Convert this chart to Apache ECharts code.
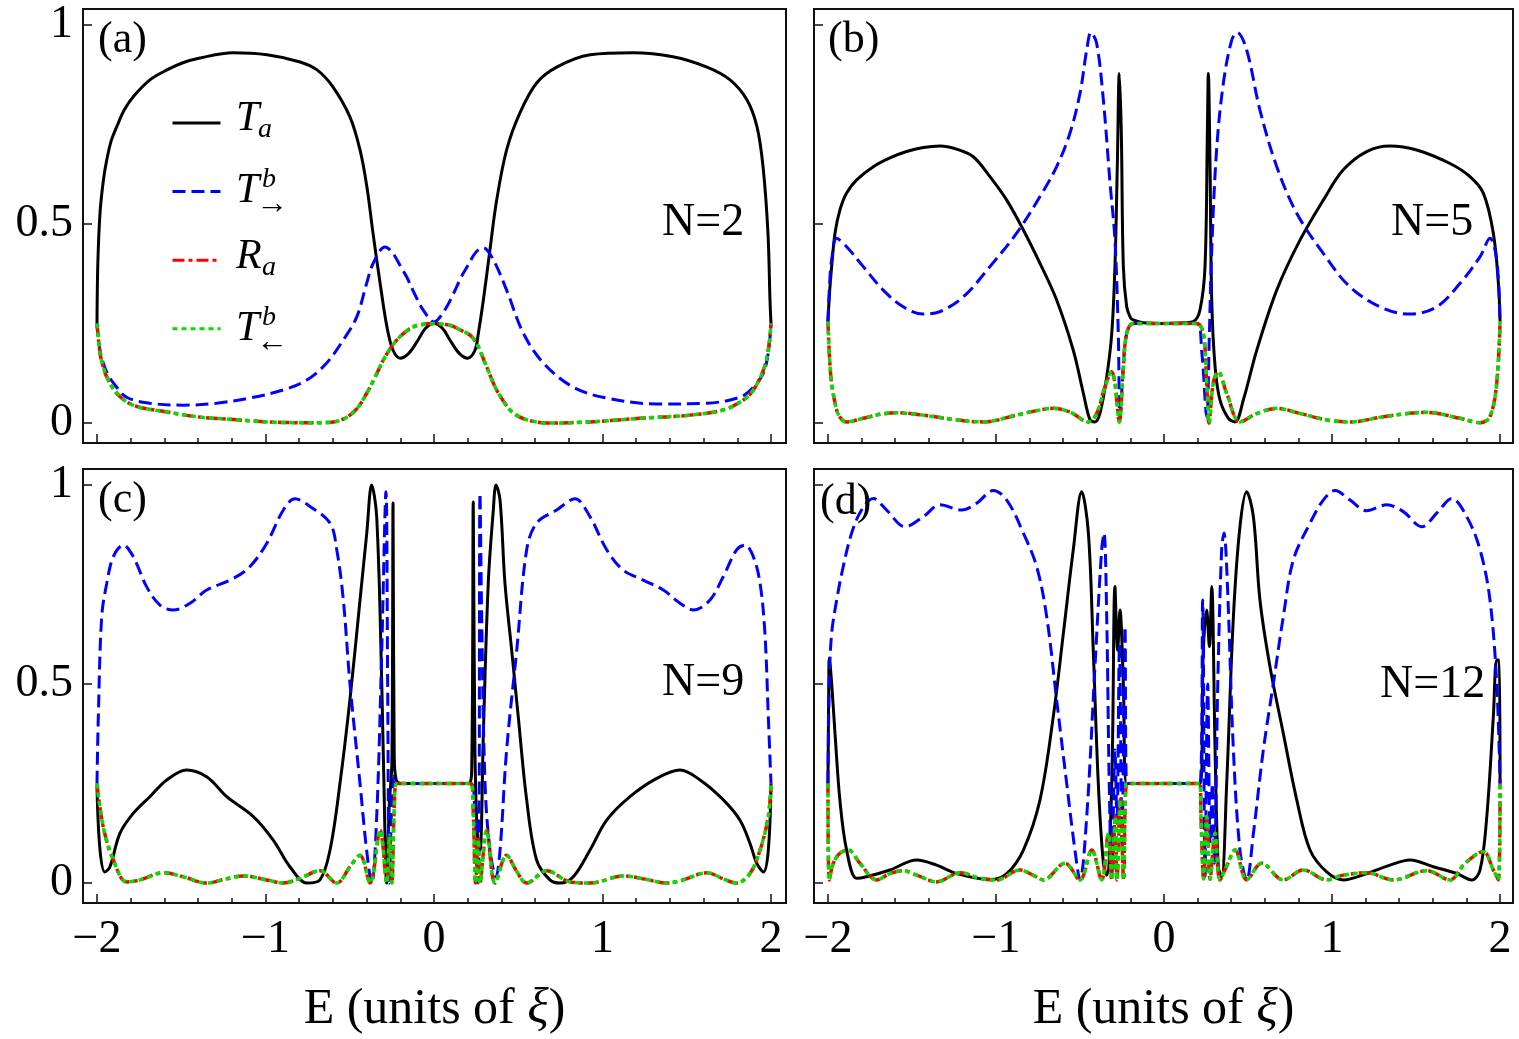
<!DOCTYPE html>
<html>
<head>
<meta charset="utf-8">
<title>Transmission vs E</title>
<script src="https://cdn.jsdelivr.net/npm/echarts@6/dist/echarts.min.js"></script>
<style>
html, body { margin: 0; padding: 0; background: #fff; }
#chart { width: 1519px; height: 1039px; }
</style>
</head>
<body>
<div id="chart"></div>
<script>
// tick positions
const majorTicks = [-2, -1, 0, 1, 2];
const minorTicks = [-1.8, -1.6, -1.4, -1.2, -0.8, -0.6, -0.4, -0.2, 0.2, 0.4, 0.6, 0.8, 1.2, 1.4, 1.6, 1.8];
const yTicks = [0, 0.5, 1];
const panelTags = ['(a)', '(b)', '(c)', '(d)'];
const panelN = ['N=2', 'N=5', 'N=9', 'N=12'];

// (a) N=2  -- [E, value]
const taA = [[-2,0.25],[-1.995,0.4],[-1.982,0.528],[-1.962,0.61],[-1.942,0.661],[-1.915,0.71],[-1.883,0.744],[-1.84,0.785],[-1.786,0.819],[-1.686,0.862],[-1.585,0.887],[-1.49,0.905],[-1.389,0.917],[-1.193,0.93],[-0.991,0.925],[-0.795,0.907],[-0.694,0.887],[-0.599,0.844],[-0.499,0.769],[-0.439,0.686],[-0.398,0.593],[-0.362,0.477],[-0.32,0.352],[-0.279,0.241],[-0.243,0.183],[-0.2,0.163],[-0.15,0.175],[-0.1,0.205],[-0.05,0.238],[0,0.25],[0.05,0.238],[0.1,0.205],[0.15,0.175],[0.2,0.163],[0.243,0.183],[0.263,0.225],[0.293,0.309],[0.332,0.435],[0.372,0.56],[0.431,0.686],[0.51,0.779],[0.609,0.854],[0.728,0.894],[0.926,0.925],[1.18,0.93],[1.418,0.92],[1.62,0.894],[1.757,0.862],[1.857,0.812],[1.917,0.744],[1.953,0.643],[1.982,0.477],[1.994,0.309],[2,0.25]];
const trA = [[-2,0.25],[-1.985,0.19],[-1.963,0.151],[-1.935,0.122],[-1.903,0.101],[-1.824,0.065],[-1.686,0.05],[-1.488,0.045],[-1.29,0.05],[-1.092,0.063],[-0.896,0.083],[-0.755,0.108],[-0.637,0.151],[-0.538,0.209],[-0.459,0.266],[-0.399,0.352],[-0.36,0.402],[-0.291,0.442],[-0.25,0.43],[-0.2,0.395],[-0.162,0.367],[-0.11,0.32],[-0.064,0.284],[0,0.254],[0.064,0.284],[0.11,0.32],[0.162,0.367],[0.2,0.395],[0.25,0.43],[0.293,0.44],[0.352,0.41],[0.431,0.334],[0.53,0.226],[0.649,0.151],[0.827,0.09],[1.025,0.063],[1.32,0.048],[1.619,0.05],[1.816,0.065],[1.895,0.09],[1.955,0.126],[1.985,0.18],[2,0.25]];
const raA = [[-2,0.25],[-1.982,0.176],[-1.962,0.14],[-1.942,0.116],[-1.883,0.075],[-1.785,0.045],[-1.586,0.028],[-1.389,0.015],[-1.191,0.009],[-0.993,0.003],[-0.795,0.001],[-0.677,0.001],[-0.598,0.003],[-0.55,0.008],[-0.499,0.02],[-0.45,0.04],[-0.399,0.075],[-0.35,0.115],[-0.301,0.158],[-0.25,0.193],[-0.202,0.217],[-0.15,0.235],[-0.1,0.245],[0,0.25],[0.1,0.245],[0.15,0.235],[0.214,0.221],[0.253,0.2],[0.313,0.141],[0.372,0.083],[0.451,0.033],[0.51,0.015],[0.57,0.006],[0.669,0],[0.926,0.003],[1.223,0.012],[1.519,0.02],[1.717,0.033],[1.836,0.058],[1.895,0.083],[1.955,0.133],[1.984,0.183],[2,0.25]];

// (b) N=5
const taB = [[-2,0.255],[-1.99,0.33],[-1.978,0.393],[-1.958,0.477],[-1.929,0.535],[-1.889,0.578],[-1.829,0.611],[-1.73,0.644],[-1.631,0.666],[-1.532,0.682],[-1.433,0.692],[-1.333,0.696],[-1.234,0.688],[-1.135,0.669],[-1.036,0.619],[-0.936,0.56],[-0.837,0.485],[-0.738,0.401],[-0.639,0.309],[-0.54,0.183],[-0.48,0.075],[-0.44,0.008],[-0.411,0.003],[-0.381,0.025],[-0.341,0.116],[-0.311,0.225],[-0.292,0.393],[-0.278,0.644],[-0.266,0.878],[-0.254,0.728],[-0.242,0.393],[-0.222,0.292],[-0.2,0.265],[-0.183,0.259],[-0.123,0.252],[0,0.25],[0.123,0.252],[0.175,0.255],[0.214,0.284],[0.244,0.393],[0.258,0.73],[0.264,0.878],[0.274,0.644],[0.284,0.309],[0.304,0.141],[0.333,0.058],[0.383,0.012],[0.423,0.003],[0.472,0.058],[0.552,0.183],[0.671,0.334],[0.81,0.46],[0.948,0.56],[1.067,0.636],[1.206,0.682],[1.345,0.696],[1.504,0.686],[1.702,0.652],[1.821,0.619],[1.901,0.577],[1.96,0.477],[1.99,0.351],[2,0.255]];
const trB = [[-2,0.255],[-1.99,0.35],[-1.978,0.41],[-1.948,0.464],[-1.889,0.443],[-1.79,0.393],[-1.671,0.334],[-1.552,0.292],[-1.433,0.274],[-1.333,0.28],[-1.194,0.317],[-1.036,0.393],[-0.877,0.477],[-0.738,0.569],[-0.639,0.644],[-0.56,0.728],[-0.5,0.828],[-0.46,0.937],[-0.435,0.981],[-0.401,0.954],[-0.361,0.812],[-0.321,0.602],[-0.292,0.46],[-0.272,0.225],[-0.262,0.016],[-0.242,0.141],[-0.222,0.225],[-0.183,0.25],[0,0.25],[0.195,0.25],[0.224,0.183],[0.254,0.016],[0.27,0.225],[0.284,0.435],[0.313,0.686],[0.353,0.853],[0.403,0.962],[0.436,0.981],[0.492,0.937],[0.571,0.786],[0.671,0.644],[0.79,0.527],[0.948,0.426],[1.107,0.342],[1.305,0.288],[1.464,0.274],[1.623,0.292],[1.762,0.351],[1.881,0.418],[1.94,0.464],[1.98,0.41],[2,0.255]];
const raB = [[-2,0.255],[-1.99,0.16],[-1.978,0.1],[-1.948,0.033],[-1.92,0.01],[-1.889,0.003],[-1.79,0.012],[-1.69,0.022],[-1.591,0.026],[-1.433,0.02],[-1.234,0.008],[-1.075,0.003],[-0.877,0.02],[-0.75,0.032],[-0.659,0.037],[-0.56,0.028],[-0.45,0.003],[-0.401,0.024],[-0.351,0.091],[-0.311,0.129],[-0.292,0.1],[-0.266,0.003],[-0.242,0.141],[-0.222,0.225],[-0.183,0.25],[0,0.25],[0.195,0.25],[0.234,0.225],[0.254,0.1],[0.268,0],[0.293,0.1],[0.323,0.129],[0.373,0.075],[0.452,0.003],[0.552,0.024],[0.671,0.037],[0.81,0.024],[0.969,0.008],[1.107,0.003],[1.305,0.016],[1.45,0.024],[1.563,0.027],[1.762,0.012],[1.881,0.001],[1.94,0.016],[1.98,0.1],[2,0.255]];

// (c) N=9
const taC = [[-2,0.242],[-1.982,0.083],[-1.953,0.028],[-1.923,0.041],[-1.864,0.125],[-1.785,0.175],[-1.686,0.217],[-1.586,0.259],[-1.468,0.284],[-1.349,0.267],[-1.23,0.217],[-1.072,0.167],[-0.954,0.108],[-0.855,0.041],[-0.755,0],[-0.677,0.008],[-0.617,0.083],[-0.558,0.25],[-0.499,0.46],[-0.439,0.711],[-0.399,0.879],[-0.37,1],[-0.34,0.92],[-0.31,0.502],[-0.291,0.125],[-0.281,0],[-0.265,0.2],[-0.25,0.3],[-0.243,0.955],[-0.236,0.32],[-0.225,0.26],[-0.2,0.25],[0,0.25],[0.204,0.25],[0.224,0.29],[0.233,0.958],[0.243,0.334],[0.257,0.125],[0.273,0.083],[0.293,0.376],[0.322,0.753],[0.352,0.937],[0.368,1],[0.392,0.962],[0.421,0.754],[0.461,0.585],[0.5,0.418],[0.55,0.209],[0.609,0.058],[0.688,0.008],[0.748,0],[0.827,0.016],[0.926,0.083],[1.025,0.158],[1.163,0.217],[1.322,0.263],[1.46,0.284],[1.579,0.259],[1.717,0.209],[1.816,0.158],[1.875,0.1],[1.915,0.05],[1.955,0.028],[1.984,0.083],[2,0.25]];
const trC = [[-2,0.25],[-1.992,0.418],[-1.972,0.669],[-1.942,0.753],[-1.903,0.82],[-1.844,0.849],[-1.785,0.82],[-1.705,0.744],[-1.626,0.698],[-1.547,0.686],[-1.448,0.703],[-1.349,0.736],[-1.191,0.765],[-1.092,0.795],[-0.993,0.853],[-0.894,0.937],[-0.825,0.965],[-0.736,0.946],[-0.617,0.904],[-0.577,0.837],[-0.538,0.711],[-0.499,0.502],[-0.439,0.25],[-0.4,0.083],[-0.37,0],[-0.34,0.167],[-0.31,0.585],[-0.285,0.983],[-0.275,0.5],[-0.265,0],[-0.25,0.2],[-0.235,0.27],[-0.22,0.25],[0,0.25],[0.22,0.25],[0.24,0.2],[0.263,0],[0.273,0.979],[0.283,0.669],[0.303,0.25],[0.332,0.083],[0.368,0.016],[0.392,0.083],[0.431,0.334],[0.491,0.585],[0.55,0.837],[0.609,0.904],[0.728,0.937],[0.837,0.965],[0.926,0.92],[1.025,0.837],[1.123,0.786],[1.242,0.761],[1.361,0.736],[1.46,0.703],[1.539,0.686],[1.638,0.711],[1.717,0.77],[1.796,0.837],[1.846,0.849],[1.895,0.82],[1.935,0.753],[1.964,0.627],[1.984,0.418],[2,0.25]];
const raC = [[-2,0.25],[-1.963,0.141],[-1.903,0.058],[-1.824,0.003],[-1.745,0.008],[-1.607,0.026],[-1.488,0.016],[-1.349,0],[-1.24,0.01],[-1.132,0.018],[-0.993,0.008],[-0.894,0],[-0.795,0.012],[-0.677,0.031],[-0.577,0],[-0.499,0.041],[-0.439,0.07],[-0.38,0],[-0.32,0.133],[-0.28,0],[-0.265,0.12],[-0.25,0],[-0.235,0.2],[-0.22,0.25],[0,0.25],[0.22,0.25],[0.233,0.18],[0.247,0],[0.263,0.11],[0.273,0],[0.313,0.133],[0.362,0],[0.431,0.07],[0.49,0.03],[0.55,0],[0.669,0.031],[0.807,0.003],[0.926,0],[1.123,0.018],[1.25,0.01],[1.381,0],[1.479,0.008],[1.619,0.026],[1.72,0.01],[1.796,0],[1.875,0.024],[1.935,0.083],[1.984,0.167],[2,0.25]];

// (d) N=12
const taD = [[-2,0.25],[-1.995,0.5],[-1.992,0.565],[-1.978,0.502],[-1.958,0.376],[-1.929,0.209],[-1.889,0.083],[-1.829,0.012],[-1.77,0.016],[-1.631,0.033],[-1.472,0.058],[-1.353,0.045],[-1.234,0.024],[-1.036,0.009],[-0.936,0.024],[-0.837,0.083],[-0.738,0.209],[-0.659,0.418],[-0.599,0.627],[-0.54,0.837],[-0.49,0.983],[-0.45,0.879],[-0.421,0.585],[-0.391,0.25],[-0.361,0.05],[-0.341,0.02],[-0.311,0.25],[-0.292,0.745],[-0.276,0.585],[-0.262,0.686],[-0.242,0.502],[-0.222,0.25],[0,0.25],[0.214,0.25],[0.234,0.585],[0.254,0.686],[0.27,0.594],[0.284,0.745],[0.304,0.334],[0.323,0.041],[0.343,0.016],[0.373,0.25],[0.413,0.669],[0.452,0.895],[0.492,0.983],[0.532,0.92],[0.571,0.711],[0.631,0.543],[0.71,0.376],[0.79,0.209],[0.869,0.083],[0.968,0.028],[1.067,0.008],[1.206,0.024],[1.345,0.045],[1.464,0.058],[1.603,0.041],[1.742,0.024],[1.832,0.008],[1.881,0.033],[1.921,0.167],[1.96,0.418],[1.98,0.56],[1.995,0.56],[2,0.25]];
const trD = [[-2,0.25],[-1.992,0.502],[-1.978,0.627],[-1.948,0.711],[-1.909,0.795],[-1.859,0.879],[-1.8,0.937],[-1.73,0.966],[-1.651,0.937],[-1.542,0.895],[-1.433,0.92],[-1.333,0.95],[-1.204,0.937],[-1.115,0.954],[-1.016,0.986],[-0.936,0.962],[-0.837,0.879],[-0.758,0.795],[-0.698,0.669],[-0.639,0.46],[-0.579,0.25],[-0.53,0.083],[-0.5,0.008],[-0.46,0.167],[-0.411,0.543],[-0.371,0.837],[-0.357,0.879],[-0.341,0.669],[-0.326,0.25],[-0.311,0.016],[-0.292,0.334],[-0.28,0.15],[-0.265,0.6],[-0.25,0.1],[-0.232,0.644],[-0.222,0.25],[0,0.25],[0.214,0.25],[0.23,0.711],[0.244,0.016],[0.26,0.5],[0.275,0.1],[0.288,0.25],[0.3,0.05],[0.32,0.5],[0.343,0.837],[0.357,0.879],[0.377,0.753],[0.413,0.334],[0.452,0.083],[0.492,0.008],[0.532,0.125],[0.591,0.334],[0.651,0.502],[0.71,0.669],[0.77,0.812],[0.869,0.904],[0.948,0.962],[1.018,0.986],[1.107,0.962],[1.206,0.935],[1.325,0.95],[1.424,0.933],[1.534,0.895],[1.623,0.929],[1.713,0.966],[1.802,0.92],[1.881,0.837],[1.94,0.711],[1.98,0.502],[2,0.25]];
const raD = [[-2,0.25],[-1.992,0.008],[-1.968,0.05],[-1.929,0.075],[-1.879,0.083],[-1.81,0.05],[-1.71,0.008],[-1.631,0.024],[-1.552,0.031],[-1.472,0.02],[-1.353,0.003],[-1.214,0.026],[-1.095,0.012],[-0.996,0.008],[-0.857,0.033],[-0.78,0.02],[-0.718,0.008],[-0.589,0.05],[-0.5,0.008],[-0.43,0.083],[-0.371,0.008],[-0.331,0.125],[-0.311,0.008],[-0.29,0.167],[-0.28,0.008],[-0.26,0.21],[-0.24,0.008],[-0.22,0.25],[0,0.25],[0.214,0.25],[0.22,0.17],[0.236,0.01],[0.254,0.167],[0.274,0.01],[0.304,0.125],[0.333,0.008],[0.37,0.04],[0.423,0.083],[0.492,0.008],[0.581,0.05],[0.71,0.008],[0.829,0.033],[0.968,0.008],[1.067,0.02],[1.206,0.026],[1.365,0.008],[1.563,0.031],[1.702,0.008],[1.792,0.05],[1.901,0.079],[1.96,0.033],[1.99,0.008],[2,0.25]];

// R_a and T_left^b coincide in every panel
const panels = [
    { ta: taA, tr: trA, ra: raA, tl: raA },
    { ta: taB, tr: trB, ra: raB, tl: raB },
    { ta: taC, tr: trC, ra: raC, tl: raC },
    { ta: taD, tr: trD, ra: raD, tl: raD }
];

const serif = '"Liberation Serif", "Times New Roman", serif';

const gridBoxes = [
    { left: 83, top: 9, width: 703, height: 434 },
    { left: 814, top: 9, width: 699, height: 434 },
    { left: 83, top: 469, width: 703, height: 434 },
    { left: 814, top: 469, width: 699, height: 434 }
];
const xRange = [[-2.083, 2.089], [-2.083, 2.077], [-2.083, 2.089], [-2.083, 2.077]];

const styles = {
    ta: { color: '#000000', width: 3, type: 'solid' },
    tr: { color: '#0000ff', width: 3, type: [13, 6] },
    ra: { color: '#ff0000', width: 3.5, type: [12, 4, 4, 4] },
    tl: { color: '#00e000', width: 3.5, type: [5, 4] }
};
const seriesNames = { ta: 'Ta', tr: 'Tr', ra: 'Ra', tl: 'Tl' };

const grid = [];
const xAxis = [];
const yAxis = [];
const series = [];

gridBoxes.forEach(function (box, i) {
    grid.push(Object.assign({ show: true, borderColor: '#111', borderWidth: 2, backgroundColor: 'transparent' }, box));
    const bottomRow = i >= 2;
    const leftCol = i % 2 === 0;

    // main x axis: long ticks at integers
    xAxis.push({
        type: 'value', gridIndex: i, position: 'bottom',
        min: xRange[i][0], max: xRange[i][1],
        axisLine: { show: false, onZero: false },
        splitLine: { show: false },
        axisTick: { show: true, inside: true, length: 9, customValues: majorTicks, lineStyle: { color: '#111', width: 1.5 } },
        axisLabel: {
            show: bottomRow, customValues: majorTicks, margin: 14,
            fontSize: 46, fontFamily: serif, color: '#000',
            formatter: function (v) { return v < 0 ? '\u2212' + Math.abs(v) : String(v); }
        },
        name: bottomRow ? 'E (units of {xi|\u03be})' : '',
        nameLocation: 'middle', nameGap: 82,
        nameTextStyle: {
            fontSize: 50, fontFamily: serif, color: '#000',
            rich: { xi: { fontSize: 50, fontFamily: serif, fontStyle: 'italic', color: '#000' } }
        }
    });
    // minor ticks
    xAxis.push({
        type: 'value', gridIndex: i, position: 'bottom',
        min: xRange[i][0], max: xRange[i][1],
        axisLine: { show: false, onZero: false },
        splitLine: { show: false },
        axisTick: { show: true, inside: true, length: 5, customValues: minorTicks, lineStyle: { color: '#111', width: 1.5 } },
        axisLabel: { show: false }
    });
    yAxis.push({
        type: 'value', gridIndex: i, position: 'left',
        min: -0.05, max: 1.04,
        axisLine: { show: false, onZero: false },
        splitLine: { show: false },
        axisTick: { show: true, inside: true, length: 9, customValues: yTicks, lineStyle: { color: '#111', width: 1.5 } },
        axisLabel: { show: leftCol, customValues: yTicks, margin: 10, fontSize: 46, fontFamily: serif, color: '#000' }
    });

    ['ta', 'tr', 'ra', 'tl'].forEach(function (key, k) {
        series.push({
            name: seriesNames[key],
            type: 'line',
            xAxisIndex: i * 2,
            yAxisIndex: i,
            data: panels[i][key],
            symbol: 'none',
            showSymbol: false,
            smooth: 0.35,
            lineStyle: styles[key],
            itemStyle: { color: styles[key].color },
            z: 2 + k
        });
    });
});

// panel tags and N labels
const tagPos = [[98, 40], [828, 40], [98, 500], [820, 502]];
const nPos = [[662, 223], [1391, 223], [662, 683], [1380, 685]];
const graphic = [];
panelTags.forEach(function (t, i) {
    graphic.push({ type: 'text', x: tagPos[i][0], y: tagPos[i][1], z: 100,
        style: { text: t, fontSize: 44, fontFamily: serif, fill: '#000', verticalAlign: 'middle' } });
    graphic.push({ type: 'text', x: nPos[i][0], y: nPos[i][1], z: 100,
        style: { text: panelN[i], fontSize: 46, fontFamily: serif, fill: '#000', verticalAlign: 'middle' } });
});

// legend labels (the line samples come from the legend component)
function lbl(text, x, y, size, italic) {
    return { type: 'text', x: x, y: y, z: 100,
        style: { text: text, fontSize: size, fontFamily: serif, fontStyle: italic ? 'italic' : 'normal', fill: '#000', verticalAlign: 'middle' } };
}
graphic.push(lbl('T', 236, 119, 42, true), lbl('a', 258, 130, 28, true));
graphic.push(lbl('T', 236, 191, 42, true), lbl('b', 262, 180, 28, true), lbl('\u2192', 256, 205, 32, false));
graphic.push(lbl('R', 236, 257, 42, true), lbl('a', 262, 268, 28, true));
graphic.push(lbl('T', 236, 329, 42, true), lbl('b', 262, 318, 28, true), lbl('\u2190', 256, 343, 32, false));

const chart = echarts.init(document.getElementById('chart'));
chart.setOption({
    animation: false,
    backgroundColor: '#ffffff',
    grid: grid,
    xAxis: xAxis,
    yAxis: yAxis,
    legend: {
        data: ['Ta', 'Tr', 'Ra', 'Tl'],
        orient: 'vertical',
        left: 166, top: 111,
        itemWidth: 48, itemHeight: 14, itemGap: 56,
        selectedMode: false,
        itemStyle: { opacity: 0 },
        lineStyle: { width: 3 },
        formatter: function () { return ''; },
        textStyle: { fontSize: 10 }
    },
    series: series,
    graphic: graphic
});
</script>
</body>
</html>
